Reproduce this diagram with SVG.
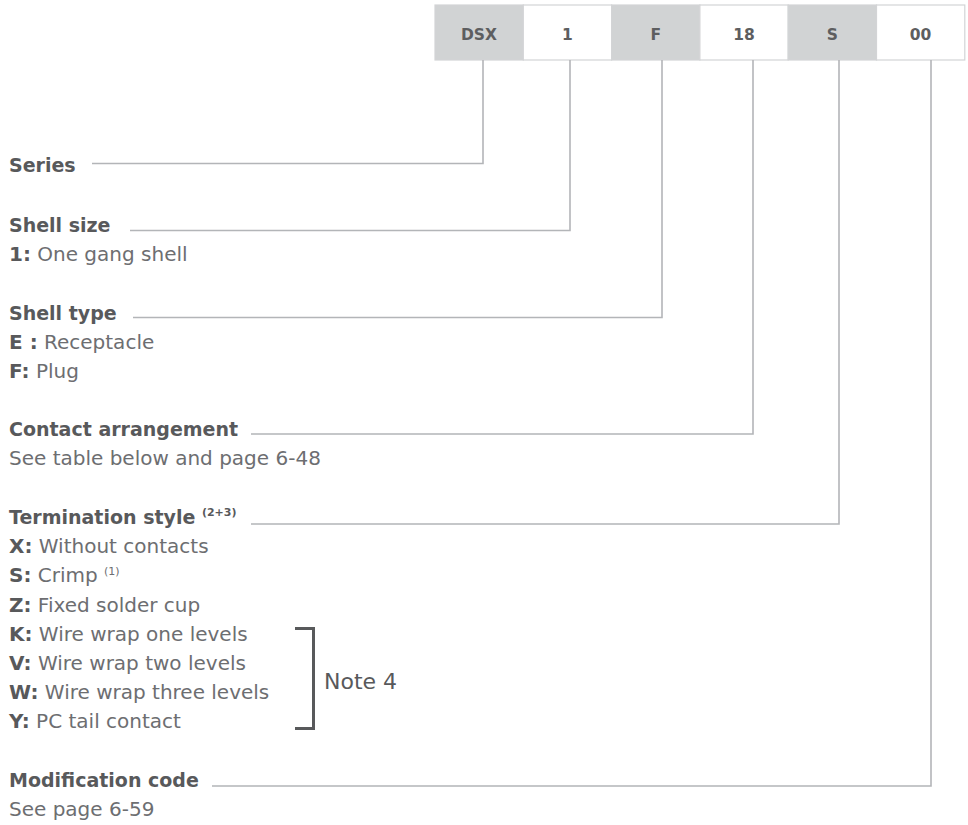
<svg xmlns="http://www.w3.org/2000/svg" width="968" height="825" viewBox="0 0 968 825">
<style>
.box{stroke:#d3d4d6;stroke-width:1.2}
.g{fill:#d1d3d4}
.w{fill:#ffffff}
.bt{font-family:"DejaVu Sans","Liberation Sans",sans-serif;font-weight:bold;font-size:15.5px;fill:#5d5e60;text-anchor:middle}
.lab{font-family:"DejaVu Sans","Noto Sans",sans-serif;font-weight:bold;font-size:19px;fill:#58595b}
.txt{font-family:"DejaVu Sans","Noto Sans",sans-serif;font-size:20px;fill:#6d6e71}
.b{font-weight:bold;fill:#58595b}
.sup{font-size:11px}
.con{fill:none;stroke:#b3b5b8;stroke-width:1.6}
.brk{fill:none;stroke:#58595b;stroke-width:3}
.note{font-family:"DejaVu Sans","Noto Sans",sans-serif;font-size:22px;fill:#58595b}
</style>
<rect width="968" height="825" fill="#ffffff"/>
<g id="code">
<rect class="box g" x="435" y="5" width="88.3" height="55"/>
<rect class="box w" x="523.3" y="5" width="88.3" height="55"/>
<rect class="box g" x="611.6" y="5" width="88.3" height="55"/>
<rect class="box w" x="699.9" y="5" width="88.3" height="55"/>
<rect class="box g" x="788.2" y="5" width="88.3" height="55"/>
<rect class="box w" x="876.5" y="5" width="88.3" height="55"/>
<text class="bt" x="479" y="39.5">DSX</text>
<text class="bt" x="567.5" y="39.5">1</text>
<text class="bt" x="655.8" y="39.5">F</text>
<text class="bt" x="744" y="39.5">18</text>
<text class="bt" x="832.3" y="39.5">S</text>
<text class="bt" x="920.6" y="39.5">00</text>
</g>
<g id="connectors">
<polyline class="con" points="92,163.5 483,163.5 483,60"/>
<polyline class="con" points="130,230.5 570,230.5 570,60"/>
<polyline class="con" points="133,317.5 662,317.5 662,60"/>
<polyline class="con" points="251,434 753,434 753,60"/>
<polyline class="con" points="251,524 839,524 839,60"/>
<polyline class="con" points="212,786 931,786 931,60"/>
</g>
<g id="series">
<text class="lab" x="9" y="172">Series</text>
</g>
<g id="shell-size">
<text class="lab" x="9" y="231.5">Shell size</text>
<text class="txt" x="9" y="261"><tspan class="b">1:</tspan> One gang shell</text>
</g>
<g id="shell-type">
<text class="lab" x="9" y="320">Shell type</text>
<text class="txt" x="9" y="349"><tspan class="b">E :</tspan> Receptacle</text>
<text class="txt" x="9" y="378"><tspan class="b">F:</tspan> Plug</text>
</g>
<g id="contact-arrangement">
<text class="lab" x="9" y="436">Contact arrangement</text>
<text class="txt" x="9" y="465">See table below and page 6-48</text>
</g>
<g id="termination-style">
<text class="lab" x="9" y="524">Termination style <tspan class="sup" dy="-8">(2+3)</tspan></text>
<text class="txt" x="9" y="553"><tspan class="b">X:</tspan> Without contacts</text>
<text class="txt" x="9" y="582"><tspan class="b">S:</tspan> Crimp <tspan class="sup" font-size="12" dy="-7">(1)</tspan></text>
<text class="txt" x="9" y="612"><tspan class="b">Z:</tspan> Fixed solder cup</text>
<text class="txt" x="9" y="641"><tspan class="b">K:</tspan> Wire wrap one levels</text>
<text class="txt" x="9" y="670"><tspan class="b">V:</tspan> Wire wrap two levels</text>
<text class="txt" x="9" y="699"><tspan class="b">W:</tspan> Wire wrap three levels</text>
<text class="txt" x="9" y="728"><tspan class="b">Y:</tspan> PC tail contact</text>
</g>
<g id="note4">
<polyline class="brk" points="295,628.5 313.5,628.5 313.5,728.5 295,728.5"/>
<text class="note" x="324" y="689">Note 4</text>
</g>
<g id="modification-code">
<text class="lab" x="9" y="787">Modification code</text>
<text class="txt" x="9" y="816">See page 6-59</text>
</g>
</svg>
